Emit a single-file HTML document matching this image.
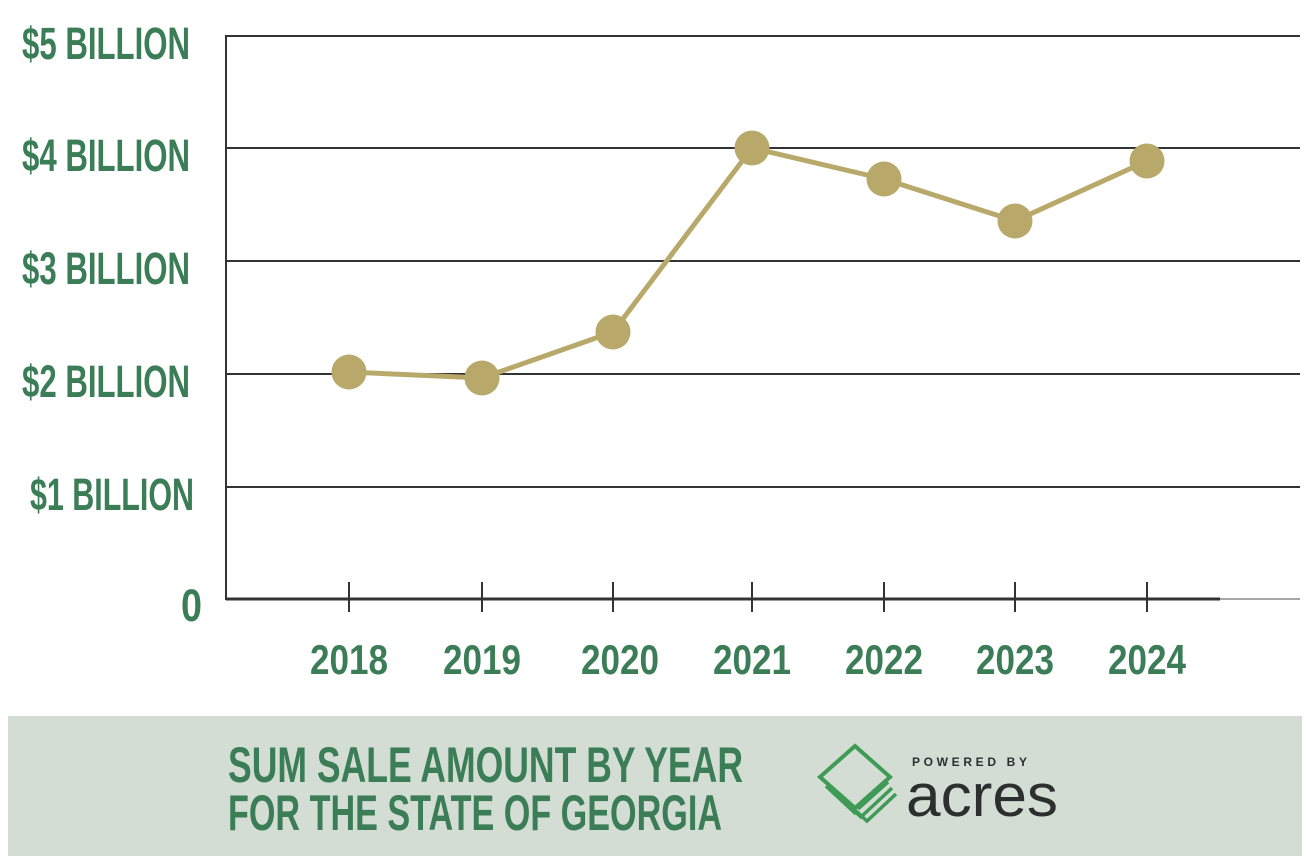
<!DOCTYPE html>
<html><head><meta charset="utf-8"><style>
html,body{margin:0;padding:0;background:#fff;}
svg{display:block;}
</style></head><body>
<svg width="1308" height="864" viewBox="0 0 1308 864" xmlns="http://www.w3.org/2000/svg">
<g font-family="'Liberation Sans Narrow','Liberation Sans',sans-serif" font-weight="bold" fill="#3b7d56">
<text x="22" y="59" font-size="45" textLength="168" lengthAdjust="spacingAndGlyphs">$5 BILLION</text>
<text x="22" y="171" font-size="45" textLength="168" lengthAdjust="spacingAndGlyphs">$4 BILLION</text>
<text x="22" y="284" font-size="45" textLength="168" lengthAdjust="spacingAndGlyphs">$3 BILLION</text>
<text x="22" y="397" font-size="45" textLength="168" lengthAdjust="spacingAndGlyphs">$2 BILLION</text>
<text x="30" y="510" font-size="45" textLength="164" lengthAdjust="spacingAndGlyphs">$1 BILLION</text>
<text x="181" y="621" font-size="45" textLength="21" lengthAdjust="spacingAndGlyphs">0</text>
<g font-size="42" text-anchor="middle">
<text x="349" y="674" textLength="78" lengthAdjust="spacingAndGlyphs">2018</text>
<text x="482" y="674" textLength="78" lengthAdjust="spacingAndGlyphs">2019</text>
<text x="620" y="674" textLength="78" lengthAdjust="spacingAndGlyphs">2020</text>
<text x="752" y="674" textLength="78" lengthAdjust="spacingAndGlyphs">2021</text>
<text x="884" y="674" textLength="78" lengthAdjust="spacingAndGlyphs">2022</text>
<text x="1015" y="674" textLength="78" lengthAdjust="spacingAndGlyphs">2023</text>
<text x="1147" y="674" textLength="78" lengthAdjust="spacingAndGlyphs">2024</text>
</g>
</g>
<g stroke="#333" stroke-width="2">
<line x1="226" y1="36" x2="1300" y2="36"/>
<line x1="226" y1="148" x2="1300" y2="148"/>
<line x1="226" y1="261" x2="1300" y2="261"/>
<line x1="226" y1="374" x2="1300" y2="374"/>
<line x1="226" y1="487" x2="1300" y2="487"/>
<line x1="226" y1="35" x2="226" y2="600"/>
<line x1="226" y1="599" x2="1220" y2="599" stroke-width="3"/>
<line x1="1220" y1="599" x2="1300" y2="599" stroke="#888" stroke-width="1.5"/>
<line x1="349" y1="582" x2="349" y2="612"/>
<line x1="482" y1="582" x2="482" y2="612"/>
<line x1="613" y1="582" x2="613" y2="612"/>
<line x1="752" y1="582" x2="752" y2="612"/>
<line x1="884" y1="582" x2="884" y2="612"/>
<line x1="1015" y1="582" x2="1015" y2="612"/>
<line x1="1147" y1="582" x2="1147" y2="612"/>
</g>
<polyline points="349,372 482,378 613,332 752,148 884,179 1015,221 1147,161" fill="none" stroke="#b8a96a" stroke-width="5" stroke-linejoin="round"/>
<g fill="#b8a96a">
<circle cx="349" cy="372" r="17.5"/><circle cx="482" cy="378" r="17.5"/><circle cx="613" cy="332" r="17.5"/>
<circle cx="752" cy="148" r="17.5"/><circle cx="884" cy="179" r="17.5"/><circle cx="1015" cy="221" r="17.5"/><circle cx="1147" cy="161" r="17.5"/>
</g>
<rect x="8" y="716" width="1294" height="140" fill="#d3ddd4"/>
<g font-family="'Liberation Sans Narrow','Liberation Sans',sans-serif" font-weight="bold" fill="#3b7d56" font-size="50">
<text x="228" y="782" textLength="515" lengthAdjust="spacingAndGlyphs">SUM SALE AMOUNT BY YEAR</text>
<text x="228" y="830" textLength="494" lengthAdjust="spacingAndGlyphs">FOR THE STATE OF GEORGIA</text>
</g>
<g fill="none" stroke="#3f9a55" stroke-width="4">
<path d="M855,746 L890,777 L855,808 L820,777 Z"/>
<path d="M826,786 L856,814 M834,792 L862,818 M842,798 L868,822 M858,809 L888,782 M862,816 L892,788 M866,822 L896,794" stroke-width="3.5"/>
</g>
<text x="912" y="766" font-family="'Liberation Sans',sans-serif" font-weight="bold" font-size="12" fill="#2b2f2d" textLength="115" lengthAdjust="spacing">POWERED BY</text>
<text x="906" y="816" font-family="'Liberation Sans',sans-serif" font-size="60" fill="#2b2f2d" textLength="152" lengthAdjust="spacingAndGlyphs">acres</text>
</svg>
</body></html>
